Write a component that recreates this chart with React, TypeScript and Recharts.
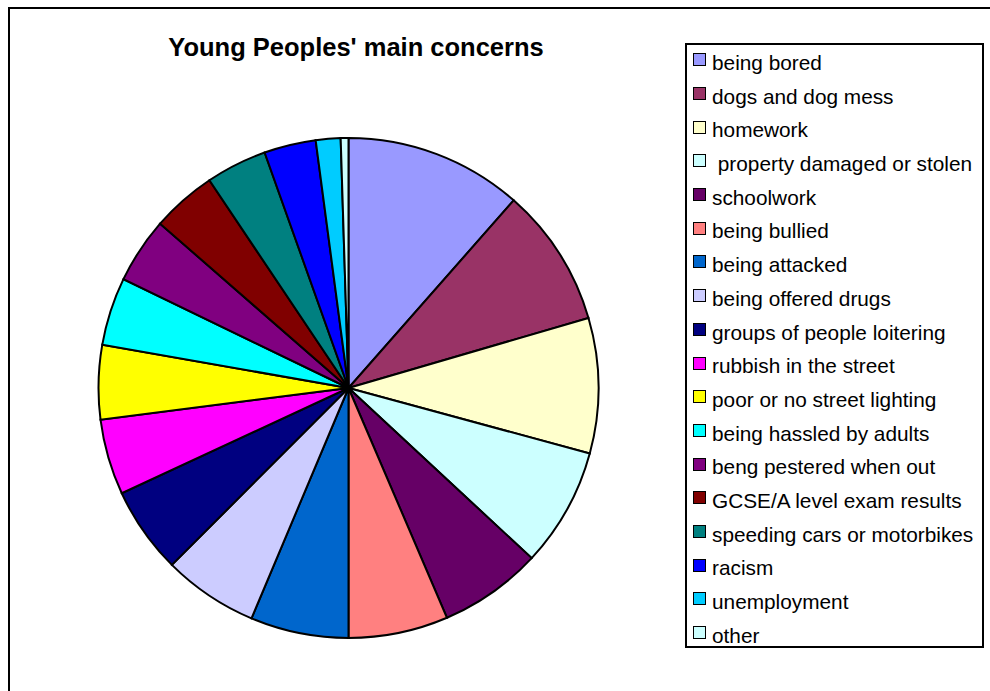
import { PieChart, Pie, Cell, Legend } from 'recharts';

// categories in the order Excel draws them (clockwise from 12 o'clock)
const CATEGORIES = [
  'being bored',
  'dogs and dog mess',
  'homework',
  ' property damaged or stolen',
  'schoolwork',
  'being bullied',
  'being attacked',
  'being offered drugs',
  'groups of people loitering',
  'rubbish in the street',
  'poor or no street lighting',
  'being hassled by adults',
  'beng pestered when out',
  'GCSE/A level exam results',
  'speeding cars or motorbikes',
  'racism',
  'unemployment',
  'other',
];

// share of responses (%)
const SHARES = [
  11.5, 9.0, 8.75, 7.7, 6.65, 6.45, 6.35, 6.15, 5.6, 4.9, 4.8, 4.4, 4.25, 4.2, 3.95, 3.35, 1.6, 0.5,
];

// default Excel 97 fill palette
const COLORS = [
  '#9999FF', '#993366', '#FFFFCC', '#CCFFFF', '#660066', '#FF8080', '#0066CC', '#CCCCFF', '#000080',
  '#FF00FF', '#FFFF00', '#00FFFF', '#800080', '#800000', '#008080', '#0000FF', '#00CCFF', '#CCFFFF',
];

const FONT = '"Liberation Sans", Arial, sans-serif';

const chartData = CATEGORIES.map((name, i) => ({ name, value: SHARES[i] }));

const renderLegend = ({ payload }: any) => {
  // keep the data order, not the alphabetical one
  const items = [...(payload || [])].sort(
    (a: any, b: any) => CATEGORIES.indexOf(a.value) - CATEGORIES.indexOf(b.value)
  );
  return (
    <div
      style={{
        boxSizing: 'border-box',
        width: '100%',
        height: '100%',
        border: '2px solid #000',
        background: '#fff',
        paddingLeft: 6,
        paddingTop: 1,
        fontFamily: FONT,
        fontSize: 20.8,
        color: '#000',
      }}
    >
      {items.map((entry: any, index: number) => (
        <div
          key={`legend-${index}`}
          style={{ height: 33.7, lineHeight: '33.7px', whiteSpace: 'pre', display: 'flex', alignItems: 'center' }}
        >
          <span
            style={{
              display: 'inline-block',
              boxSizing: 'border-box',
              width: 13,
              height: 13,
              border: '1.5px solid #000',
              background: entry.color,
              marginRight: 6,
              marginTop: -6,
            }}
          />
          <span>{entry.value}</span>
        </div>
      ))}
    </div>
  );
};

export default function App() {
  return (
    <div style={{ position: 'relative', width: 990, height: 691, overflow: 'hidden', background: '#fff' }}>
      <style>{'body{margin:0;overflow:hidden}'}</style>
      {/* outer chart area frame, runs off the right and bottom edges */}
      <div
        style={{
          position: 'absolute',
          left: 8,
          top: 7,
          width: 1000,
          height: 700,
          borderTop: '2px solid #000',
          borderLeft: '2.5px solid #000',
        }}
      />
      <div
        style={{
          position: 'absolute',
          left: 0,
          top: 35,
          width: 712,
          textAlign: 'center',
          fontFamily: FONT,
          fontWeight: 'bold',
          fontSize: 25.5,
          lineHeight: '25.5px',
          whiteSpace: 'nowrap',
        }}
      >
        Young Peoples' main concerns
      </div>
      <div style={{ position: 'absolute', left: 0, top: 0 }}>
        <PieChart width={990} height={691} margin={{ top: 0, right: 0, bottom: 0, left: 0 }}>
          <Pie
            data={chartData}
            dataKey="value"
            nameKey="name"
            cx={348.5}
            cy={388}
            outerRadius={250}
            startAngle={90}
            endAngle={-270}
            stroke="#000"
            strokeWidth={2}
            isAnimationActive={false}
          >
            {chartData.map((_, index) => (
              <Cell key={`cell-${index}`} fill={COLORS[index]} />
            ))}
          </Pie>
          <Legend
            layout="vertical"
            align="right"
            verticalAlign="top"
            content={renderLegend}
            wrapperStyle={{ left: 685, top: 43, right: 'auto', width: 299, height: 605 }}
          />
        </PieChart>
      </div>
    </div>
  );
}
